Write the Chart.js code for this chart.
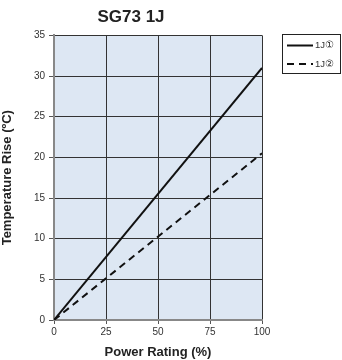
<!DOCTYPE html>
<html><head><meta charset="utf-8">
<script src="https://cdn.jsdelivr.net/npm/chart.js@4"></script>
<style>html,body{margin:0;padding:0;background:#fff;}#wrap{width:342px;height:360px;}</style>
</head><body><div id="wrap"><canvas id="c" width="342" height="360"></canvas></div>
<script>
const powerRating = [0, 100];
const rise1J1 = [0, 31];
const rise1J2 = [0, 20.5];
const seriesLabels = ['1J\u2460', '1J\u2461'];
const xTicks = [0, 25, 50, 75, 100];
const yTicks = [0, 5, 10, 15, 20, 25, 30, 35];
const FONT = "'Liberation Sans', Arial, sans-serif";

const bgPlugin = {
  id: 'bg',
  beforeDraw(chart) {
    const {ctx, chartArea: a} = chart;
    ctx.save();
    ctx.fillStyle = '#dde7f3';
    ctx.fillRect(a.left, a.top, a.right - a.left, a.bottom - a.top);
    ctx.restore();
  }
};
const legendPlugin = {
  id: 'boxLegend',
  afterDraw(chart) {
    const ctx = chart.ctx;
    ctx.save();
    ctx.strokeStyle = '#222';
    ctx.lineWidth = 1;
    ctx.strokeRect(282.5, 34.5, 58, 39);
    chart.data.datasets.forEach((ds, i) => {
      const y = 45.5 + i * 18.5;
      ctx.beginPath();
      ctx.setLineDash(ds.borderDash || []);
      ctx.lineWidth = 2;
      ctx.strokeStyle = '#111';
      ctx.moveTo(287, y); ctx.lineTo(313, y);
      ctx.stroke();
      ctx.setLineDash([]);
      ctx.fillStyle = '#333';
      ctx.font = "9.5px " + FONT;
      ctx.textBaseline = 'middle';
      ctx.fillText(ds.label, 315, y);
    });
    ctx.restore();
  }
};

new Chart(document.getElementById('c'), {
  type: 'scatter',
  data: {
    datasets: [
      { label: seriesLabels[0], data: powerRating.map((x, i) => ({x, y: rise1J1[i]})), showLine: true, borderColor: '#111', borderWidth: 2, pointRadius: 0 },
      { label: seriesLabels[1], data: powerRating.map((x, i) => ({x, y: rise1J2[i]})), showLine: true, borderColor: '#111', borderWidth: 2, borderDash: [7, 5], pointRadius: 0 }
    ]
  },
  options: {
    responsive: false,
    animation: false,
    layout: { padding: { left: 0, right: 80, top: 0, bottom: 0 } },
    plugins: {
      legend: { display: false },
      tooltip: { enabled: false },
      title: { display: true, text: 'SG73 1J', color: '#222', font: { family: FONT, size: 17, weight: 'bold' }, padding: { top: 7, bottom: 8 } }
    },
    scales: {
      x: {
        type: 'linear', min: 0, max: 100,
        afterBuildTicks: s => { s.ticks = xTicks.map(v => ({value: v})); },
        afterFit: s => { s.height = 40; },
        grid: { color: '#333', lineWidth: 1, tickLength: 4, tickColor: '#555' },
        border: { color: '#888', width: 2 },
        ticks: { color: '#333', font: { family: FONT, size: 10 }, padding: 2 },
        title: { display: true, text: 'Power Rating (%)', color: '#222', font: { family: FONT, size: 13, weight: 'bold' }, padding: { top: 2, bottom: 0 } }
      },
      y: {
        min: 0, max: 35,
        afterBuildTicks: s => { s.ticks = yTicks.map(v => ({value: v})); },
        afterFit: s => { s.width = 54; },
        grid: { color: '#333', lineWidth: 1, tickLength: 5, tickColor: '#555' },
        border: { color: '#888', width: 2 },
        ticks: { color: '#333', font: { family: FONT, size: 10 }, padding: 4 },
        title: { display: true, text: 'Temperature Rise (\u00baC)', color: '#222', font: { family: FONT, size: 13, weight: 'bold' }, padding: { top: 0, bottom: 4 } }
      }
    }
  },
  plugins: [bgPlugin, legendPlugin]
});
</script></body></html>
